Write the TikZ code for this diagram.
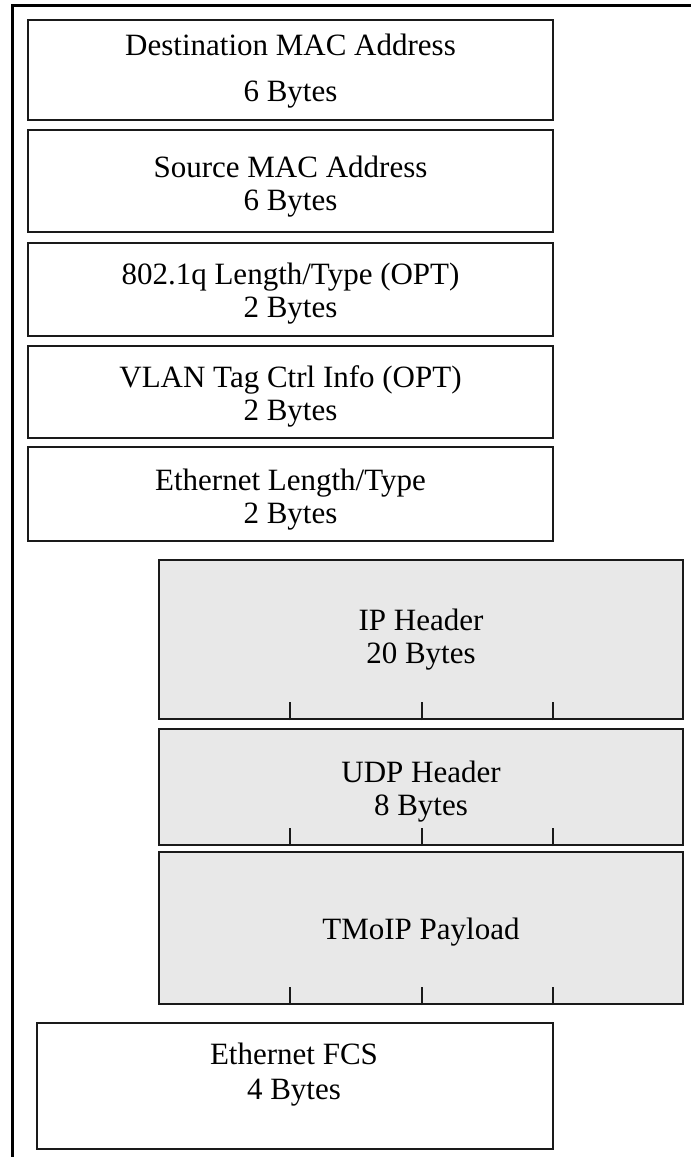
\documentclass[tikz,border=0pt]{standalone}
\usepackage{fontspec}
\setmainfont{Liberation Serif}
\definecolor{hdrgray}{HTML}{E8E8E8}
\definecolor{edge}{HTML}{1A1A1A}
\tikzset{
  fieldbox/.style={draw=edge, line width=1pt, rectangle, inner sep=0pt},
  whitebox/.style={fieldbox, fill=white},
  graybox/.style={fieldbox, fill=hdrgray},
  lbl/.style={anchor=base, inner sep=0pt, font=\fontsize{15.5pt}{18pt}\selectfont},
  tick/.style={draw=edge, line width=1pt},
  frame/.style={draw=black, line width=1.5pt}
}
\begin{document}
\begin{tikzpicture}[x=0.5pt, y=-0.5pt]
\useasboundingbox (0,0) rectangle (691,1157);
\coordinate (fA) at (12,1157);
\coordinate (fB) at (12,5);
\coordinate (fC) at (691,5);
\draw[frame] (fA) -- (fB) -- (fC);

% white Ethernet header boxes
\node[whitebox, minimum width=262.5pt, minimum height=50pt] (dst) at (290.5,70) {};
\node[whitebox, minimum width=262.5pt, minimum height=51pt] (src) at (290.5,181) {};
\node[whitebox, minimum width=262.5pt, minimum height=46.5pt] (qtag) at (290.5,289.5) {};
\node[whitebox, minimum width=262.5pt, minimum height=46pt] (vlan) at (290.5,392) {};
\node[whitebox, minimum width=262.5pt, minimum height=47pt] (etype) at (290.5,494) {};

\node[lbl] (dstT) at (290.5,55) {Destination MAC Address};
\node[lbl] (dstB) at (290.5,101) {6 Bytes};
\node[lbl] (srcT) at (290.5,177) {Source MAC Address};
\node[lbl] (srcB) at (290.5,210) {6 Bytes};
\node[lbl] (qtagT) at (290.5,284) {802.1q Length/Type (OPT)};
\node[lbl] (qtagB) at (290.5,317) {2 Bytes};
\node[lbl] (vlanT) at (290.5,387) {VLAN Tag Ctrl Info (OPT)};
\node[lbl] (vlanB) at (290.5,420) {2 Bytes};
\node[lbl] (etypeT) at (290.5,490) {Ethernet Length/Type};
\node[lbl] (etypeB) at (290.5,523) {2 Bytes};

% gray IP/UDP/payload boxes
\node[graybox, minimum width=262pt, minimum height=79.5pt] (ip) at (421,639.5) {};
\node[graybox, minimum width=262pt, minimum height=58pt] (udp) at (421,787) {};
\node[graybox, minimum width=262pt, minimum height=76pt] (pay) at (421,928) {};

\node[lbl] (ipT) at (421,630) {IP Header};
\node[lbl] (ipB) at (421,663) {20 Bytes};
\node[lbl] (udpT) at (421,782) {UDP Header};
\node[lbl] (udpB) at (421,815) {8 Bytes};
\node[lbl] (payT) at (421,939) {TMoIP Payload};

% tick marks on the bottom edges of the gray boxes
\foreach \b in {ip,udp,pay}{
  \foreach \tx in {290,421.5,553}{
    \draw[tick] (\tx,0 |- \b.south) -- ++(0,-18);
  }
}

% FCS box
\node[whitebox, minimum width=258pt, minimum height=63pt] (fcs) at (295,1086) {};
\node[lbl] (fcsT) at (294,1064) {Ethernet FCS};
\node[lbl] (fcsB) at (294,1099) {4 Bytes};
\end{tikzpicture}
\end{document}
